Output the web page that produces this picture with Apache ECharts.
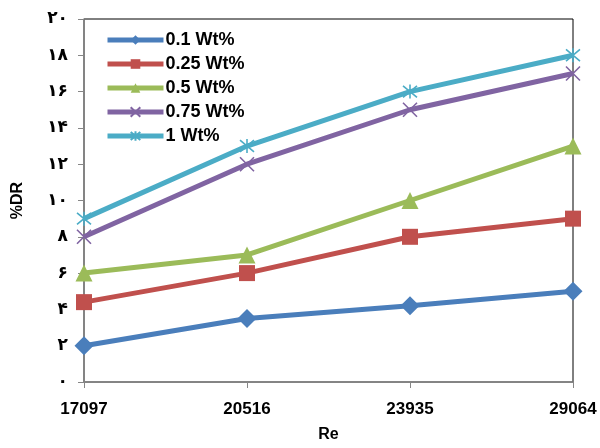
<!DOCTYPE html>
<html>
<head>
<meta charset="utf-8">
<script src="https://cdn.jsdelivr.net/npm/echarts@6/dist/echarts.min.js"></script>
<style>
  html, body { margin: 0; padding: 0; background: #fff; }
  #chart { width: 600px; height: 448px; }
</style>
</head>
<body>
<div id="chart"></div>
<script>
// Reynolds numbers on the x axis
const reCategories = ['17097', '20516', '23935', '29064'];

// Drag reduction (%DR) per polymer concentration
const dr01 = [2, 3.5, 4.2, 5];
const dr025 = [4.4, 6, 8, 9];
const dr05 = [6, 7, 10, 13];
const dr075 = [8, 12, 15, 17];
const dr1 = [9, 13, 16, 18];

const seriesNames = ['0.1 Wt%', '0.25 Wt%', '0.5 Wt%', '0.75 Wt%', '1 Wt%'];

// Y tick labels written with Persian digits
const yTickLabels = ['۰', '۲', '۴', '۶', '۸', '۱۰', '۱۲', '۱۴', '۱۶', '۱۸', '۲۰'];

const colors = ['#4A7EBB', '#C0504D', '#9BBB59', '#8064A2', '#4BACC6'];

const crossPath = 'path://M0,0L10,10M10,0L0,10';
const starPath = 'path://M0,0L10,10M10,0L0,10M5,-1L5,11';

const boldFont = 'Liberation Sans, Arial, sans-serif';

function lineSeries(name, data, color, symbol, size, stroked) {
  return {
    name: name,
    type: 'line',
    data: data,
    symbol: symbol,
    symbolSize: size,
    lineStyle: { color: color, width: 5 },
    itemStyle: stroked
      ? { color: 'rgba(0,0,0,0)', borderColor: color, borderWidth: 1.6 }
      : { color: color, borderWidth: 0 },
    emphasis: { disabled: true },
    animation: false
  };
}

const chart = echarts.init(document.getElementById('chart'), null, { renderer: 'canvas' });

chart.setOption({
  backgroundColor: '#fff',
  animation: false,
  grid: {
    left: 84, right: 27, top: 19, bottom: 63,
    show: true, borderColor: '#000', borderWidth: 1, backgroundColor: 'transparent'
  },
  legend: {
    orient: 'vertical',
    left: 105, top: 31,
    padding: 0,
    itemWidth: 56, itemHeight: 12, itemGap: 6,
    data: seriesNames,
    lineStyle: { width: 5 },
    textStyle: { fontFamily: boldFont, fontWeight: 'bold', fontSize: 18, color: '#000', padding: [0, 0, 0, -3] }
  },
  xAxis: {
    type: 'category',
    data: reCategories,
    boundaryGap: false,
    name: 'Re',
    nameLocation: 'middle',
    nameGap: 45,
    nameTextStyle: { fontFamily: boldFont, fontWeight: 'bold', fontSize: 16, color: '#000' },
    axisLine: { lineStyle: { color: '#868686', width: 1.5 } },
    axisTick: { alignWithLabel: true, length: 6, lineStyle: { color: '#868686' } },
    axisLabel: { fontFamily: boldFont, fontWeight: 'bold', fontSize: 17, color: '#000', margin: 19 },
    splitLine: { show: false }
  },
  yAxis: {
    type: 'value',
    min: 0, max: 20, interval: 2,
    name: '%DR',
    nameLocation: 'middle',
    nameGap: 58,
    nameRotate: 90,
    nameTextStyle: { fontFamily: boldFont, fontWeight: 'bold', fontSize: 16, color: '#000' },
    axisLine: { show: true, lineStyle: { color: '#868686', width: 1.5 } },
    axisTick: { show: true, length: 6, lineStyle: { color: '#868686' } },
    axisLabel: {
      fontFamily: 'DejaVu Sans, Noto Sans, sans-serif', fontWeight: 'bold', fontSize: 17, color: '#000', margin: 16,
      formatter: function (v) { return yTickLabels[Math.round(v / 2)]; }
    },
    splitLine: { show: false }
  },
  series: [
    lineSeries(seriesNames[0], dr01, colors[0], 'diamond', 19, false),
    lineSeries(seriesNames[1], dr025, colors[1], 'rect', 16, false),
    lineSeries(seriesNames[2], dr05, colors[2], 'triangle', 17, false),
    lineSeries(seriesNames[3], dr075, colors[3], crossPath, 14, true),
    lineSeries(seriesNames[4], dr1, colors[4], starPath, 14, true)
  ]
});
</script>
</body>
</html>
